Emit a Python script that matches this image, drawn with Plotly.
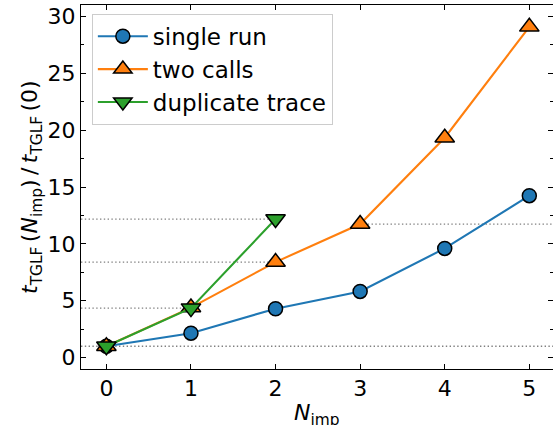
import plotly.graph_objects as go

# Number of impurities and normalised TGLF run times
n_imp = [0, 1, 2, 3, 4, 5]
single_run = [1.0, 2.15, 4.30, 5.82, 9.60, 14.24]
two_calls = [1.0, 4.40, 8.40, 11.74, 19.33, 29.08]
n_imp_dup = [0, 1, 2]
duplicate_trace = [1.0, 4.35, 12.18]

x_ticks = [0, 1, 2, 3, 4, 5]
y_ticks = [0, 5, 10, 15, 20, 25, 30]

X_RANGE = [-0.3, 5.28]
Y_RANGE = [-1.0, 31.0]

FONT = "DejaVu Sans"
BLUE, ORANGE, GREEN = "#1f77b4", "#ff7f0e", "#2ca02c"

fig = go.Figure()

# Dotted guide levels: baseline across, others running to/from the marked point
guides = [
    (X_RANGE[0], X_RANGE[1], 1.0),
    (X_RANGE[0], n_imp_dup[1], duplicate_trace[1]),
    (X_RANGE[0], n_imp[2], two_calls[2]),
    (X_RANGE[0], n_imp_dup[2], duplicate_trace[2]),
    (n_imp[3], X_RANGE[1], two_calls[3]),
]
for x0, x1, level in guides:
    fig.add_trace(go.Scatter(
        x=[x0, x1], y=[level, level], mode="lines",
        line=dict(color="#808080", width=1.4, dash="1.4px,2.4px"),
        showlegend=False, hoverinfo="skip",
    ))

edge = dict(color="black", width=1.5)
fig.add_trace(go.Scatter(
    x=n_imp, y=single_run, name="single run", mode="lines+markers",
    line=dict(color=BLUE, width=2.1),
    marker=dict(symbol="circle", size=14, color=BLUE, line=edge),
))
fig.add_trace(go.Scatter(
    x=n_imp, y=two_calls, name="two calls", mode="lines+markers",
    line=dict(color=ORANGE, width=2.1),
    marker=dict(symbol="triangle-up", size=17, color=ORANGE, line=edge),
))
fig.add_trace(go.Scatter(
    x=n_imp_dup, y=duplicate_trace, name="duplicate trace", mode="lines+markers",
    line=dict(color=GREEN, width=2.1),
    marker=dict(symbol="triangle-down", size=17, color=GREEN, line=edge),
))

axis_common = dict(
    showline=True, linecolor="black", linewidth=1.1,
    ticks="inside", ticklen=5, tickwidth=1.1, tickcolor="black",
    showgrid=False, zeroline=False, automargin=False,
    tickfont=dict(family=FONT, size=22, color="black"),
)

fig.update_xaxes(range=X_RANGE, tickvals=x_ticks, mirror="allticks", **axis_common)
fig.update_yaxes(
    range=Y_RANGE, tickvals=y_ticks, mirror="allticks",
    minor=dict(dtick=2.5, tick0=0, ticks="inside", ticklen=3, tickwidth=1.1, tickcolor="black"),
    **axis_common,
)

label_font = dict(family=FONT, size=22, color="black")

# Axis labels as annotations positioned relative to the plot area
fig.add_annotation(
    text="<i>N</i><sub>imp</sub>",
    xref="paper", yref="paper", x=0.5, y=-0.08,
    xanchor="center", yanchor="top", showarrow=False, font=label_font,
)
fig.add_annotation(
    text="<i>t</i><sub>TGLF</sub>\u2009(<i>N</i><sub>imp</sub>)\u2009/\u2009<i>t</i><sub>TGLF</sub>\u2009(0)",
    xref="paper", yref="paper", x=-0.106, y=0.5,
    xanchor="center", yanchor="middle", textangle=-90, showarrow=False,
    font=label_font,
)

fig.update_layout(
    width=553, height=425,
    margin=dict(l=81, r=0, t=5, b=56),
    paper_bgcolor="white", plot_bgcolor="white",
    font=dict(family=FONT, size=22, color="black"),
    legend=dict(
        x=0.023, y=0.976, xanchor="left", yanchor="top",
        bgcolor="rgba(255,255,255,0.8)", bordercolor="#cccccc", borderwidth=1,
        font=dict(family=FONT, size=23, color="black"),
        tracegroupgap=0, itemwidth=50,
    ),
)

fig.write_html("out.html")
